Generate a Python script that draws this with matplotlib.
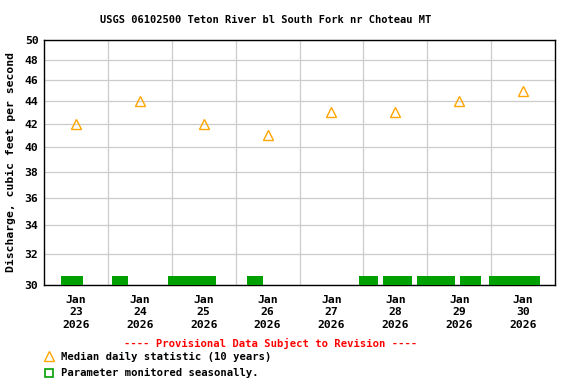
import matplotlib
matplotlib.use('Agg')
import matplotlib.pyplot as plt
from matplotlib.lines import Line2D
from matplotlib.patches import Rectangle
from matplotlib.ticker import NullLocator, FixedLocator, FixedFormatter

# days since Jan 23 2026 00:00
days = ['Jan\n23\n2026', 'Jan\n24\n2026', 'Jan\n25\n2026', 'Jan\n26\n2026',
        'Jan\n27\n2026', 'Jan\n28\n2026', 'Jan\n29\n2026', 'Jan\n30\n2026']
median_day = [0.5, 1.5, 2.5, 3.5, 4.5, 5.5, 6.5, 7.5]
median_cfs = [42, 44, 42, 41, 43, 43, 44, 45]

# seasonal monitoring periods (start, end), days since Jan 23 00:00
seg_start = [0.27, 1.06, 1.94, 3.18, 4.93, 5.31, 5.84, 6.51, 6.96]
seg_end = [0.61, 1.32, 2.69, 3.43, 5.23, 5.76, 6.43, 6.84, 7.76]

yticks = list(range(30, 51, 2))

font = 'DejaVu Sans Mono'
orange = '#ffa500'

fig = plt.figure(figsize=(5.76, 3.84), dpi=100)
ax = fig.add_axes([44/576, 1 - 285/384, 511/576, 245/384])

ax.set_yscale('log')
ax.set_xlim(0, 8)
ax.set_ylim(30, 50)

for s, e in zip(seg_start, seg_end):
    ax.bar(s, 0.6, width=e - s, bottom=30, align='edge', color='#00a000', zorder=3)

ax.plot(median_day, median_cfs, linestyle='none', marker='^', markersize=6.5,
        markerfacecolor='none', markeredgecolor=orange, markeredgewidth=1.0, zorder=4)

ax.set_xticks(median_day)
ax.set_xticklabels(days, fontfamily=font, fontweight='bold', fontsize=8.2, linespacing=1.3)
ax.set_xticks(range(1, 8), minor=True)
ax.yaxis.set_major_locator(FixedLocator(yticks))
ax.yaxis.set_major_formatter(FixedFormatter([str(v) for v in yticks]))
ax.yaxis.set_minor_locator(NullLocator())
for lab in ax.get_yticklabels():
    lab.set_fontfamily(font)
    lab.set_fontweight('bold')
    lab.set_fontsize(8.2)
ax.tick_params(axis='both', which='both', length=0)
ax.tick_params(axis='x', pad=7)
ax.tick_params(axis='y', pad=4)
ax.grid(axis='y', which='major', color='#cccccc', linewidth=0.9)
ax.grid(axis='x', which='minor', color='#cccccc', linewidth=0.9)
ax.set_axisbelow(True)
for sp in ax.spines.values():
    sp.set_linewidth(1.0)

ax.set_ylabel('Discharge, cubic feet per second', fontfamily=font, fontweight='bold',
              fontsize=8.2, labelpad=6)

fig.text(266/576, 1 - 20/384, 'USGS 06102500 Teton River bl South Fork nr Choteau MT',
         ha='center', va='center', fontfamily=font, fontweight='bold', fontsize=7.5)
fig.text(271/576, 1 - 343/384, '---- Provisional Data Subject to Revision ----',
         ha='center', va='center', color='red', fontfamily=font, fontweight='bold', fontsize=7.6)

fig.add_artist(Line2D([49/576], [1 - 356/384], transform=fig.transFigure, marker='^',
                      markersize=6.5, markerfacecolor='none', markeredgecolor=orange,
                      markeredgewidth=1.0, linestyle='none'))
fig.text(61/576, 1 - 357/384, 'Median daily statistic (10 years)', ha='left', va='center',
         fontfamily=font, fontweight='bold', fontsize=7.6)
fig.add_artist(Rectangle((45/576, 1 - 377/384), 8/576, 8/384, transform=fig.transFigure,
                         facecolor='none', edgecolor='#00a000', linewidth=1.2))
fig.text(61/576, 1 - 373/384, 'Parameter monitored seasonally.', ha='left', va='center',
         fontfamily=font, fontweight='bold', fontsize=7.6)

fig.savefig('out.png', dpi=100)
